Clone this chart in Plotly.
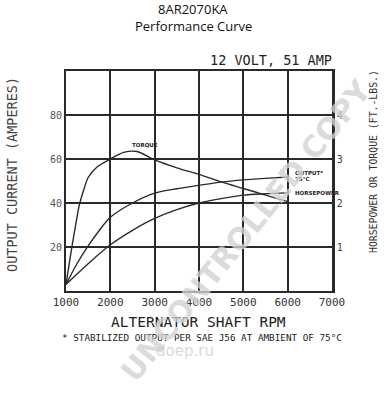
import plotly.graph_objects as go

# ---- data ----
rpm_torque = [1000, 1100, 1200, 1300, 1400, 1500, 1700, 2000, 2300, 2600, 3000, 3500, 4000, 4500, 5000, 5500, 6000]
torque_ftlbs = [0.15, 0.8, 1.4, 1.95, 2.3, 2.58, 2.82, 3.0, 3.15, 3.17, 2.98, 2.8, 2.65, 2.48, 2.33, 2.18, 2.03]

rpm_output = [1000, 1250, 1500, 1750, 2000, 2500, 3000, 3500, 4000, 4500, 5000, 5500, 6000]
output_amps = [3, 12.5, 20.5, 27.5, 33.5, 40, 44.5, 46.5, 48, 49.5, 50.5, 51.2, 51.8]

rpm_hp = [1000, 1500, 2000, 2500, 3000, 3500, 4000, 4500, 5000, 5500, 6000]
horsepower = [0.15, 0.62, 1.05, 1.38, 1.65, 1.85, 2.0, 2.1, 2.18, 2.21, 2.23]

x_ticks = [1000, 2000, 3000, 4000, 5000, 6000, 7000]
left_ticks = [20, 40, 60, 80]
right_ticks = [1, 2, 3, 4]

ink = "#2a2a2a"
mono = "DejaVu Sans Mono"

fig = go.Figure()
line_style = dict(color=ink, width=1.4, shape="spline", smoothing=0.8)
fig.add_trace(go.Scatter(x=rpm_torque, y=torque_ftlbs, mode="lines", line=line_style, yaxis="y2", name="TORQUE"))
fig.add_trace(go.Scatter(x=rpm_output, y=output_amps, mode="lines", line=line_style, name="OUTPUT"))
fig.add_trace(go.Scatter(x=rpm_hp, y=horsepower, mode="lines", line=line_style, yaxis="y2", name="HORSEPOWER"))

fig.update_layout(
    width=386, height=400,
    margin=dict(l=66, r=54, t=71, b=109),
    paper_bgcolor="white", plot_bgcolor="white",
    showlegend=False,
    xaxis=dict(range=[1000, 7000], tickvals=x_ticks, ticktext=[str(v) for v in x_ticks],
               showgrid=True, gridcolor=ink, gridwidth=1.5, zeroline=False,
               showline=True, linecolor=ink, linewidth=2, mirror=True,
               ticks="", tickfont=dict(family=mono, size=11, color="#333"), ticklabelstandoff=0),
    yaxis=dict(range=[0, 100], tickvals=left_ticks, ticktext=[str(v) for v in left_ticks],
               showgrid=True, gridcolor=ink, gridwidth=1.5, zeroline=False,
               showline=True, linecolor=ink, linewidth=2,
               ticks="", tickfont=dict(family=mono, size=10, color="#555")),
    yaxis2=dict(range=[0, 5], tickvals=right_ticks, ticktext=[str(v) for v in right_ticks],
                overlaying="y", side="right", showgrid=False, zeroline=False,
                showline=True, linecolor=ink, linewidth=2.5,
                ticks="", tickfont=dict(family=mono, size=10, color="#444")),
)

# pixel -> paper conversion: plot area is 66..332 (x) and 71..291 (y)
def px(xp):
    return (xp - 66) / (332 - 66)

def py(yp):
    return (291 - yp) / (291 - 71)

def text_at(text, xp, yp, size, family=mono, color="#222", angle=0, xanchor="center"):
    fig.add_annotation(text=text, x=px(xp), y=py(yp), xref="paper", yref="paper",
                       showarrow=False, font=dict(family=family, size=size, color=color),
                       textangle=angle, xanchor=xanchor, yanchor="middle")

text_at("8AR2070KA", 193, 9, 13, family="Open Sans", color="#111")
text_at("Performance Curve", 193, 26, 13, family="Open Sans", color="#111")
text_at("12 VOLT, 51 AMP", 334, 60, 13.5, xanchor="right")
text_at("OUTPUT CURRENT (AMPERES)", 12, 175, 13.5, angle=-90, color="#444")
text_at("HORSEPOWER OR TORQUE (FT.-LBS.)", 373, 162, 9.8, angle=-90, color="#333")
text_at("ALTERNATOR SHAFT RPM", 198, 322, 14.5, color="#222")
text_at("* STABILIZED OUTPUT PER SAE J56 AT AMBIENT OF 75°C", 202, 337, 9.3, color="#222")

# curve labels (data coordinates)
def data_label(text, x, y, size=5.5):
    fig.add_annotation(text=text, x=x, y=y, xref="x", yref="y", showarrow=False,
                       font=dict(family="DejaVu Sans", size=size, color="#222"),
                       xanchor="left", yanchor="middle")

data_label("<b>TORQUE</b>", 2450, 66.5)
data_label("<b>OUTPUT*</b>", 6120, 53.8)
data_label("<b>75°C</b>", 6120, 51)
data_label("<b>HORSEPOWER</b>", 6120, 44.5)

# watermark
text_at("<b>UNCONTROLLED COPY</b>", 246, 230, 30, family="DejaVu Sans", color="rgba(210,210,210,0.8)", angle=-51)
text_at("doep.ru", 185, 351, 15, family="DejaVu Sans", color="rgba(200,200,200,0.7)")

fig.write_html("out.html")
